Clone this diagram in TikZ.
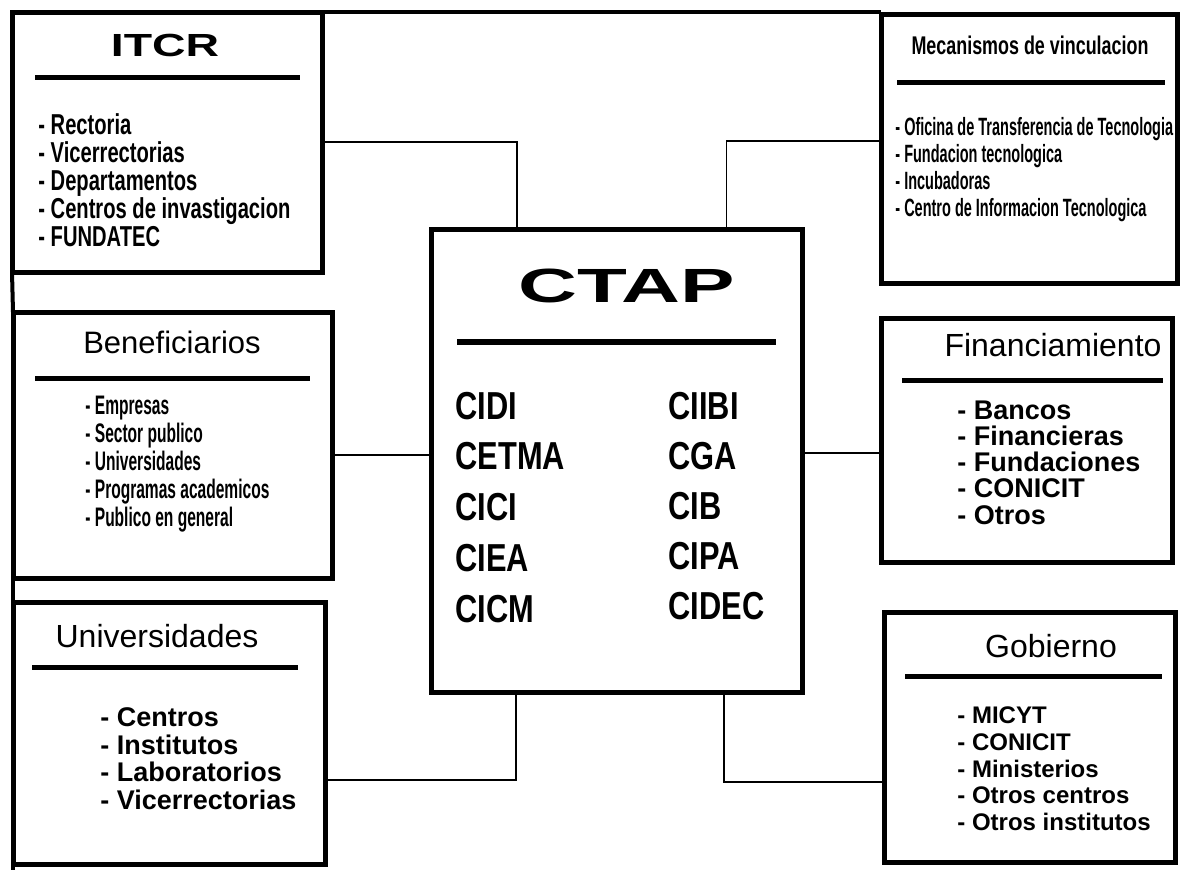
\documentclass[tikz,border=0pt]{standalone}
\usepackage{fontspec}
\setmainfont{Liberation Sans}
\newfontfamily\condfont[FakeStretch=0.7]{Liberation Sans}
\newfontfamily\narrowfont[FakeStretch=0.58]{Liberation Sans}
\newfontfamily\colfont[FakeStretch=0.79]{Liberation Sans}
\newfontfamily\widefont[FakeStretch=1.45]{Liberation Sans}
\newfontfamily\ctapfont[FakeStretch=1.7]{Liberation Sans}

\begin{document}
\begin{tikzpicture}[x=0.5pt,y=-0.5pt,
	panel/.style={draw,line width=2.5pt,inner sep=0pt,outer sep=0pt},
	rule/.style={line width=2.5pt},
	frame/.style={line width=2pt},
	link/.style={line width=0.8pt},
	entry/.style={anchor=base west,inner sep=0pt}]
			\useasboundingbox (0,0) rectangle (1182,869);
			% CTAP and its partners
			\node[panel,minimum width=185.5pt,minimum height=231.5pt] (CTAP) at (616.5,460.5) {};
			\node[panel,minimum width=155pt,minimum height=130pt] (ITCR) at (167,142) {};
			\node[panel,minimum width=159.5pt,minimum height=133pt] (Beneficiarios) at (172.5,445) {};
			\node[panel,minimum width=156pt,minimum height=131pt] (Universidades) at (169,733) {};
			\node[panel,minimum width=148pt,minimum height=134.5pt] (Mecanismos) at (1029,148.5) {};
			\node[panel,minimum width=145.5pt,minimum height=122pt] (Financiamiento) at (1026.5,440) {};
			\node[panel,minimum width=145.5pt,minimum height=125pt] (Gobierno) at (1029.5,737) {};
			
			\draw[frame] (ITCR.north east) -- (ITCR.north east -| Mecanismos.west);
			\draw[frame] (ITCR.south west) -- (Beneficiarios.north west);
			\draw[frame] (Beneficiarios.south west) -- (Universidades.north west);
			\draw[frame] (Universidades.south west) -- ++(0,10);
			
			\draw[link] (ITCR.east) -| ([xshift=-49.75pt]CTAP.north);
			\draw[link] ([yshift=3.75pt]Mecanismos.west) -| ([xshift=55pt]CTAP.north);
			\draw[link] ([yshift=2.75pt]CTAP.west) -- ([yshift=2.75pt]CTAP.west -| Beneficiarios.east);
			\draw[link] ([yshift=3.75pt]CTAP.east) -- ([yshift=3.75pt]CTAP.east -| Financiamiento.west);
			\draw[link] ([xshift=-50.25pt]CTAP.south) |- ([yshift=-23.5pt]Universidades.east);
			\draw[link] ([xshift=53.75pt]CTAP.south) |- ([yshift=-22.5pt]Gobierno.west);
			
			% titles
			\node[font=\ctapfont\bfseries\fontsize{24}{26}\selectfont] (CTAPtitle) at (627,286) {CTAP};
			\node[font=\widefont\bfseries\fontsize{16}{18}\selectfont] (ITCRtitle) at (165,45) {ITCR};
			\node[font=\condfont\bfseries\fontsize{12.8}{14}\selectfont] (Mectitle) at (1030,45) {Mecanismos de vinculacion};
			\node[font=\fontsize{15.5}{17}\selectfont] (Bentitle) at (172,342) {Beneficiarios};
			\node[font=\fontsize{16}{18}\selectfont] (Fintitle) at (1053,345) {Financiamiento};
			\node[font=\fontsize{16}{18}\selectfont] (Unititle) at (157,636) {Universidades};
			\node[font=\fontsize{16}{18}\selectfont] (Gobtitle) at (1051,646) {Gobierno};
			
			\draw[line width=3pt] (457,342) -- (776,342);
			\draw[rule] (35,77) -- (300,77);
			\draw[rule] (897,82) -- (1165,82);
			\draw[rule] (35,378) -- (310,378);
			\draw[rule] (902,380) -- (1163,380);
			\draw[rule] (32,667) -- (298,667);
			\draw[rule] (905,676) -- (1162,676);
			
			% lists
			\foreach \t [count=\i from 0] in {CIDI,CETMA,CICI,CIEA,CICM}
				\node[entry,font=\colfont\bfseries\fontsize{19.5}{21}\selectfont] (CTAPl\i) at (455,419+50.75*\i) {\t};
			\foreach \t [count=\i from 0] in {CIIBI,CGA,CIB,CIPA,CIDEC}
				\node[entry,font=\colfont\bfseries\fontsize{19.5}{21}\selectfont] (CTAPr\i) at (668,419+50*\i) {\t};
			\foreach \t [count=\i from 0] in {Rectoria,Vicerrectorias,Departamentos,Centros de invastigacion,FUNDATEC}
				\node[entry,font=\condfont\bfseries\fontsize{14.4}{16}\selectfont] (ITCR\i) at (38,134.5+28*\i) {- \t};
			\foreach \t [count=\i from 0] in {Empresas,Sector publico,Universidades,Programas academicos,Publico en general}
				\node[entry,font=\narrowfont\bfseries\fontsize{13.4}{15}\selectfont] (Ben\i) at (85,414+28*\i) {- \t};
			\foreach \t [count=\i from 0] in {Oficina de Transferencia de Tecnologia,Fundacion tecnologica,Incubadoras,Centro de Informacion Tecnologica}
				\node[entry,font=\narrowfont\bfseries\fontsize{12.5}{14}\selectfont] (Mec\i) at (895,135.5+27*\i) {- \t};
			\foreach \t [count=\i from 0] in {Bancos,Financieras,Fundaciones,CONICIT,Otros}
				\node[entry,font=\bfseries\fontsize{13.5}{15}\selectfont] (Fin\i) at (957,419+26.25*\i) {- \t};
			\foreach \t [count=\i from 0] in {Centros,Institutos,Laboratorios,Vicerrectorias}
				\node[entry,font=\bfseries\fontsize{13.5}{15}\selectfont] (Uni\i) at (100,726.5+27.7*\i) {- \t};
			\foreach \t [count=\i from 0] in {MICYT,CONICIT,Ministerios,Otros centros,Otros institutos}
				\node[entry,font=\bfseries\fontsize{12}{14}\selectfont] (Gob\i) at (957,723.5+26.75*\i) {- \t};
			
			\end{tikzpicture}
\end{document}
